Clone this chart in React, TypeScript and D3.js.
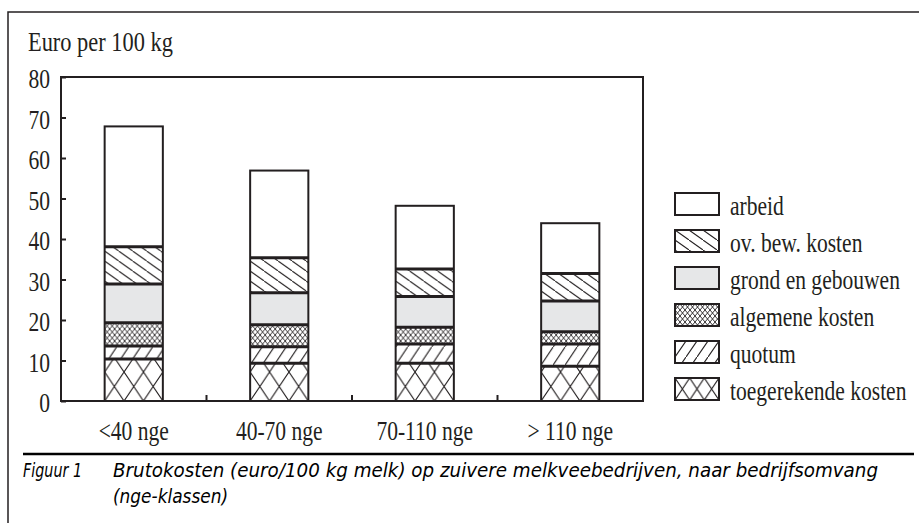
import React, { useEffect, useRef } from 'react'
import * as d3 from 'd3'

// size classes (nge) and cost components, bottom to top
const categories = ['<40 nge', '40-70 nge', '70-110 nge', '> 110 nge']
const toegerekende = [10.4, 9.3, 9.3, 8.6]
const quotum = [3.2, 4.1, 4.8, 5.5]
const algemene = [5.7, 5.4, 4.1, 3.0]
const grond = [9.6, 7.9, 7.6, 7.6]
const overige = [9.2, 8.7, 6.8, 6.8]
const arbeid = [29.7, 21.5, 15.6, 12.4]

const seriesNames = ['toegerekende kosten', 'quotum', 'algemene kosten', 'grond en gebouwen', 'ov. bew. kosten', 'arbeid']
const seriesKinds = ['toeg', 'quotum', 'alg', 'grond', 'ov', 'arbeid']
const yTicks = [0, 10, 20, 30, 40, 50, 60, 70, 80]
const yTitle = 'Euro per 100 kg'
const captionLabel = 'Figuur 1'
const captionLines = ['Brutokosten (euro/100 kg melk) op zuivere melkveebedrijven, naar bedrijfsomvang', '(nge-klassen)']

const INK = '#231f20'
const SERIF = "'Liberation Serif', 'Times New Roman', serif"
const NARROW = "'Liberation Sans Narrow', 'DejaVu Sans Condensed', 'Liberation Sans', sans-serif"
const SX = 0.77 // the original typeface is a condensed Times

function App() {
    const ref = useRef<SVGSVGElement>(null)

    useEffect(() => {
        const svg = d3.select(ref.current)
        svg.selectAll('*').remove()

        const margin = { top: 77, right: 276, bottom: 122, left: 61 }
        const W = 919, H = 523
        const width = W - margin.left - margin.right
        const height = H - margin.top - margin.bottom

        const x = d3.scaleBand<string>()
            .domain(categories)
            .range([margin.left, margin.left + width])
            .paddingInner(0.6)
            .paddingOuter(0.3)
        const y = d3.scaleLinear()
            .domain([0, 80])
            .range([margin.top + height, margin.top])
        const bw = x.bandwidth()

        const defs = svg.append('defs')

        // hatch patterns; each bar gets its own so the hatching starts at its edge
        function fillFor(kind: string, id: string, px: number, py: number, big: boolean) {
            if (kind === 'arbeid') return '#fff'
            if (kind === 'grond') return '#e6e7e8'
            let w = 14, h = 10, d = ''
            if (kind === 'ov') { w = 14; h = 10; d = `M${-w},${-h}L${2 * w},${2 * h}` }
            if (kind === 'quotum') { w = big ? 12 : 11; h = big ? 18 : 16; d = `M${-w},${2 * h}L${2 * w},${-h}` }
            if (kind === 'alg') { w = 5; h = 6; d = `M${-w},${-h}L${2 * w},${2 * h}M${-w},${2 * h}L${2 * w},${-h}` }
            if (kind === 'toeg') {
                w = big ? bw / 3 : 44 / 3; h = big ? 29 : 22
                d = `M${-w},${-h}L${2 * w},${2 * h}M${-w},${2 * h}L${2 * w},${-h}`
            }
            const p = defs.append('pattern')
                .attr('id', id)
                .attr('patternUnits', 'userSpaceOnUse')
                .attr('x', px).attr('y', py)
                .attr('width', w).attr('height', h)
            p.append('rect').attr('width', w).attr('height', h).attr('fill', '#fff')
            p.append('path').attr('d', d)
                .attr('stroke', INK)
                .attr('stroke-width', kind === 'alg' ? 0.9 : 1.1)
                .attr('fill', 'none')
            return `url(#${id})`
        }

        // outer frame
        svg.append('path')
            .attr('d', `M8,${H}V12H${W}`)
            .attr('fill', 'none').attr('stroke', INK).attr('stroke-width', 1.5)

        // stacked bars
        const rows = categories.map((c, i) => ({
            cat: c,
            s0: toegerekende[i], s1: quotum[i], s2: algemene[i],
            s3: grond[i], s4: overige[i], s5: arbeid[i],
        }))
        const keys = ['s0', 's1', 's2', 's3', 's4', 's5']
        const stacked = d3.stack<any>().keys(keys)(rows)

        const bars = svg.append('g')
        stacked.forEach((layer, li) => {
            layer.forEach((d, bi) => {
                const bx = x(d.data.cat)!
                bars.append('rect')
                    .attr('x', bx)
                    .attr('y', y(d[1]))
                    .attr('width', bw)
                    .attr('height', y(d[0]) - y(d[1]))
                    .attr('fill', fillFor(seriesKinds[li], `p-${li}-${bi}`, bx, y(0), true))
            })
        })
        // separators between the components
        stacked.slice(0, -1).forEach(layer => {
            layer.forEach(d => {
                bars.append('line')
                    .attr('x1', x(d.data.cat)!).attr('x2', x(d.data.cat)! + bw)
                    .attr('y1', y(d[1])).attr('y2', y(d[1]))
                    .attr('stroke', INK).attr('stroke-width', 3)
            })
        })
        // bar outlines
        const top = stacked[stacked.length - 1]
        top.forEach(d => {
            bars.append('rect')
                .attr('x', x(d.data.cat)!)
                .attr('y', y(d[1]))
                .attr('width', bw)
                .attr('height', y(0) - y(d[1]))
                .attr('fill', 'none')
                .attr('stroke', INK).attr('stroke-width', 2)
        })

        // plot box
        svg.append('rect')
            .attr('x', margin.left).attr('y', margin.top)
            .attr('width', width).attr('height', height)
            .attr('fill', 'none').attr('stroke', INK).attr('stroke-width', 2)

        // y axis, ticks pointing inward
        const yAxis = d3.axisLeft(y).tickValues(yTicks).tickSize(-5)
        const ya = svg.append('g')
            .attr('transform', `translate(${margin.left},0)`)
            .call(yAxis)
        ya.select('.domain').remove()
        ya.selectAll('line').attr('stroke', INK).attr('stroke-width', 2)
        ya.selectAll('text')
            .attr('x', 0).attr('dy', '0.39em')
            .attr('transform', `translate(-11,0) scale(${SX},1)`)
            .attr('fill', INK)
            .style('font-family', SERIF)
            .style('font-size', '28px')

        // x axis: small ticks between the classes, labels under the bars
        const xa = svg.append('g')
        categories.slice(1).forEach((c, i) => {
            const bx = (x(categories[i])! + bw + x(c)!) / 2
            xa.append('line')
                .attr('x1', bx).attr('x2', bx)
                .attr('y1', y(0)).attr('y2', y(0) - 6)
                .attr('stroke', INK).attr('stroke-width', 2)
        })
        categories.forEach(c => {
            xa.append('text')
                .attr('transform', `translate(${x(c)! + bw / 2},440) scale(${SX},1)`)
                .attr('text-anchor', 'middle')
                .attr('fill', INK)
                .style('font-family', SERIF)
                .style('font-size', '28px')
                .text(c)
        })

        // y title
        svg.append('text')
            .attr('transform', `translate(28,51) scale(${SX + 0.03},1)`)
            .attr('fill', INK)
            .style('font-family', SERIF)
            .style('font-size', '28px')
            .text(yTitle)

        // legend, top entry is the top of the stack
        const legend = svg.append('g')
        const order = d3.range(seriesNames.length).reverse()
        order.forEach((si, row) => {
            const ly = 193 + row * 37
            legend.append('rect')
                .attr('x', 675).attr('y', ly)
                .attr('width', 44).attr('height', 22)
                .attr('fill', fillFor(seriesKinds[si], `lg-${si}`, 675, ly, false))
                .attr('stroke', INK).attr('stroke-width', 2)
            legend.append('text')
                .attr('transform', `translate(730,${ly + 22}) scale(${SX},1)`)
                .attr('fill', INK)
                .style('font-family', SERIF)
                .style('font-size', '28px')
                .text(seriesNames[si])
        })

        // caption
        svg.append('line')
            .attr('x1', 23).attr('x2', 914)
            .attr('y1', 454).attr('y2', 454)
            .attr('stroke', '#000').attr('stroke-width', 2.5)
        const cap = svg.append('g')
            .attr('fill', '#000')
            .style('font-family', NARROW)
            .style('font-style', 'italic')
            .style('font-size', '19px')
        cap.append('text').attr('x', 23).attr('y', 477)
            .attr('textLength', 59).attr('lengthAdjust', 'spacingAndGlyphs')
            .text(captionLabel)
        cap.append('text').attr('x', 113).attr('y', 477)
            .attr('textLength', 765).attr('lengthAdjust', 'spacingAndGlyphs')
            .text(captionLines[0])
        cap.append('text').attr('x', 113).attr('y', 503)
            .attr('textLength', 115).attr('lengthAdjust', 'spacingAndGlyphs')
            .text(captionLines[1])
    }, [])

    return (
        <svg ref={ref} width={919} height={523}
            style={{ position: 'absolute', left: 0, top: 0, background: '#fff' }} />
    )
}

export default App
